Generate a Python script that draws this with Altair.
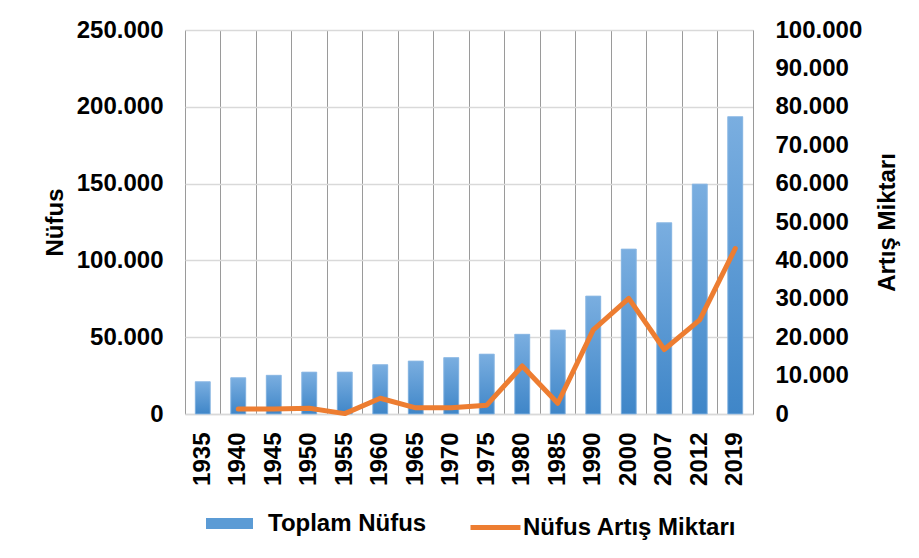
import altair as alt
import pandas as pd

years = ["1935", "1940", "1945", "1950", "1955", "1960", "1965", "1970",
         "1975", "1980", "1985", "1990", "2000", "2007", "2012", "2019"]
toplam_nufus = [21000, 23600, 25200, 27300, 27300, 32100, 34500, 36700,
                39000, 51900, 54700, 76800, 107400, 124500, 149700, 193600]
artis_years = years[1:]
artis_miktari = [1300, 1300, 1500, 100, 4100, 1600, 1600, 2300,
                 12500, 2800, 21900, 30100, 16800, 24500, 43100]
left_ticks = [0, 50000, 100000, 150000, 200000, 250000]
right_ticks = [0, 10000, 20000, 30000, 40000, 50000, 60000, 70000, 80000, 90000, 100000]

bar_df = pd.DataFrame({"year": years, "nufus": toplam_nufus, "s": "Toplam Nüfus"})
line_df = pd.DataFrame({"year": artis_years, "artis": artis_miktari, "s": "Nüfus Artış Miktarı"})

FONT = "Liberation Sans"
label_expr = "datum.value == 0 ? '0' : format(datum.value / 1000, 'd') + '.000'"

x_axis = alt.Axis(title=None, labelAngle=-90, grid=True, gridColor="#9a9a9a",
                  gridWidth=1, bandPosition=0, ticks=False, domainColor="#d9d9d9",
                  domainWidth=1.5, labelPadding=18, labelFontSize=24,
                  labelFontWeight="bold", labelColor="#000000", labelFont=FONT)
x_scale = alt.Scale(paddingInner=0, paddingOuter=0)

y_left_axis = alt.Axis(values=left_ticks, labelExpr=label_expr, title="Nüfus",
                       grid=True, gridColor="#d9d9d9", gridWidth=1.5, ticks=False,
                       domain=False, labelPadding=22, labelFontSize=24,
                       labelFontWeight="bold", labelColor="#000000", labelFont=FONT,
                       titleFontSize=24, titleFontWeight="bold", titleColor="#000000",
                       titleFont=FONT, titleAngle=-90, titleX=-130, titleY=192,
                       titleAlign="center", titleBaseline="middle")
y_left_scale = alt.Scale(domain=[0, 250000], nice=False)


def x_enc():
    return alt.X("year:N", sort=years, scale=x_scale, axis=x_axis)


def y_left():
    return alt.Y("nufus:Q", scale=y_left_scale, axis=y_left_axis)


bar_legend = alt.Chart(bar_df).mark_bar(size=15).encode(
    x=x_enc(),
    y=y_left(),
    fill=alt.Fill("s:N", scale=alt.Scale(domain=["Toplam Nüfus"], range=["#5b9bd5"]),
                  legend=alt.Legend(orient="none", legendX=21, legendY=470, title=None,
                                    symbolType="M-1,-0.234H1V0.234H-1Z", symbolSize=2209,
                                    symbolStrokeWidth=0, labelOffset=15, padding=0,
                                    labelLimit=0, labelFontSize=24, labelFontWeight="bold",
                                    labelColor="#000000", labelFont=FONT)),
)

bar_grad = alt.Chart(bar_df).mark_bar(
    size=15,
    color=alt.Gradient(gradient="linear",
                       stops=[alt.GradientStop(color="#7aaee0", offset=0),
                              alt.GradientStop(color="#3f86c8", offset=1)],
                       x1=0, x2=0, y1=0, y2=1),
    stroke="#93bde6", strokeWidth=0.8,
).encode(
    x=x_enc(),
    y=y_left(),
)

bars = alt.layer(bar_legend, bar_grad)

line = alt.Chart(line_df).mark_line(strokeWidth=5, strokeJoin="round", strokeCap="round").encode(
    x=x_enc(),
    y=alt.Y("artis:Q", scale=alt.Scale(domain=[0, 100000], nice=False),
            axis=alt.Axis(orient="right", values=right_ticks, labelExpr=label_expr,
                          title="Artış Miktarı", grid=False, ticks=False,
                          domain=True, domainColor="#9a9a9a", domainWidth=1,
                          labelPadding=22, labelFontSize=24, labelFontWeight="bold",
                          labelColor="#000000", labelFont=FONT,
                          titleFontSize=24, titleFontWeight="bold", titleColor="#000000",
                          titleFont=FONT, titleAngle=-90, titleX=134, titleY=192,
                          titleAlign="center", titleBaseline="middle")),
    stroke=alt.Stroke("s:N", scale=alt.Scale(domain=["Nüfus Artış Miktarı"], range=["#ed7d31"]),
                      legend=alt.Legend(orient="none", legendX=283, legendY=470, title=None,
                                        symbolType="stroke", symbolSize=2500,
                                        symbolStrokeWidth=5, labelOffset=0, padding=0,
                                        labelLimit=0, labelFontSize=24, labelFontWeight="bold",
                                        labelColor="#000000", labelFont=FONT)),
)

chart = alt.layer(bars, line).resolve_scale(y="independent").properties(
    width=568, height=384,
    autosize=alt.AutoSizeParams(type="none"),
    padding={"left": 177, "top": 22, "right": 158, "bottom": 128},
).configure_view(stroke=None).configure(font=FONT)

chart.save("out.html", embed_options={"renderer": "svg", "actions": False})
